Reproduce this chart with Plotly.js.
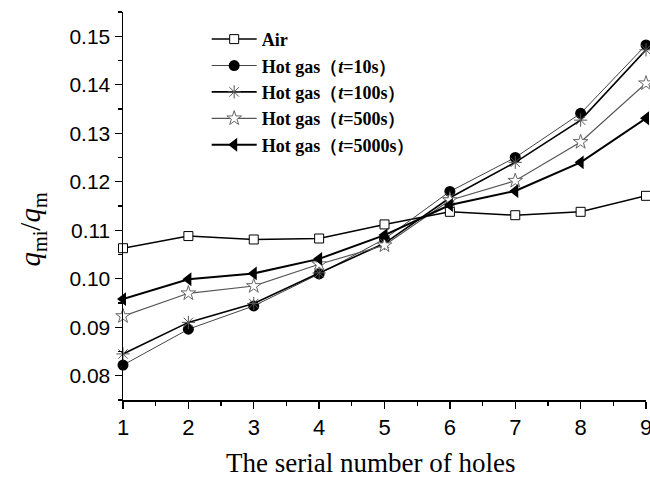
<!DOCTYPE html>
<html>
<head>
<meta charset="utf-8">
<script src="https://cdn.plot.ly/plotly-3.0.1.min.js"></script>
<style>
  html, body { margin: 0; padding: 0; background: #fff; }
  #chart { width: 650px; height: 478px; }
</style>
</head>
<body>
<div id="chart"></div>
<script>
// Hole index along the manifold
const holes = [1, 2, 3, 4, 5, 6, 7, 8, 9];

// Flow distribution ratio q_mi / q_m for each hole
const air     = [0.1063, 0.1088, 0.1081, 0.1083, 0.1112, 0.1138, 0.1131, 0.1138, 0.1171];
const gas10   = [0.0822, 0.0896, 0.0944, 0.1010, 0.1082, 0.1180, 0.1250, 0.1341, 0.1482];
const gas100  = [0.0845, 0.0910, 0.0949, 0.1012, 0.1073, 0.1167, 0.1240, 0.1327, 0.1472];
const gas500  = [0.0923, 0.0970, 0.0985, 0.1030, 0.1069, 0.1162, 0.1202, 0.1282, 0.1403];
const gas5000 = [0.0958, 0.0999, 0.1011, 0.1041, 0.1090, 0.1152, 0.1181, 0.1240, 0.1331];

const seriesNames = [
  'Air',
  'Hot gas（<i>t</i>=10s）',
  'Hot gas（<i>t</i>=100s）',
  'Hot gas（<i>t</i>=500s）',
  'Hot gas（<i>t</i>=5000s）'
];

const serif = 'Liberation Serif, Times New Roman, serif';
const sans = 'Liberation Sans, Arial, sans-serif';

function series(y, name, line, marker) {
  return {
    x: holes, y: y, name: name,
    type: 'scatter', mode: 'lines+markers',
    line: line, marker: marker, cliponaxis: false
  };
}

const traces = [
  series(air, seriesNames[0],
    { color: '#000', width: 1.5 },
    { symbol: 'square', size: 9, color: '#fff', line: { color: '#000', width: 1 } }),
  series(gas10, seriesNames[1],
    { color: '#444', width: 1 },
    { symbol: 'circle', size: 11, color: '#000', line: { color: '#000', width: 0 } }),
  series(gas100, seriesNames[2],
    { color: '#000', width: 1.6 },
    { symbol: 'asterisk-open', size: 11, color: '#555', line: { color: '#555', width: 1 } }),
  series(gas500, seriesNames[3],
    { color: '#555', width: 1.2 },
    { symbol: 'star', size: 11, color: '#fff', line: { color: '#666', width: 1 } }),
  series(gas5000, seriesNames[4],
    { color: '#000', width: 2 },
    { symbol: 'triangle-left', size: 12, color: '#000', line: { color: '#000', width: 0 } })
];

const layout = {
  width: 650, height: 478,
  margin: { l: 123.3, r: 4, t: 11.7, b: 78 },
  paper_bgcolor: '#fff', plot_bgcolor: '#fff',
  showlegend: true,
  legend: {
    x: 0.16, y: 0.977, xanchor: 'left', yanchor: 'top',
    bgcolor: 'rgba(0,0,0,0)', borderwidth: 0,
    itemwidth: 45,
    font: { family: serif, size: 18, color: '#000', weight: 'bold' }
  },
  xaxis: {
    range: [1, 9], dtick: 1, tick0: 1,
    showgrid: false, zeroline: false,
    showline: true, linecolor: '#000', linewidth: 1.5,
    ticks: 'outside', ticklen: 7, tickwidth: 1.3, tickcolor: '#000',
    minor: { dtick: 0.5, ticks: 'outside', ticklen: 4, tickwidth: 1.3, tickcolor: '#000' },
    tickfont: { family: sans, size: 22, color: '#000' },
    ticklabeloverflow: 'allow'
  },
  yaxis: {
    range: [0.075, 0.155], dtick: 0.01, tick0: 0.08, tickformat: '.2f',
    showgrid: false, zeroline: false,
    showline: true, linecolor: '#000', linewidth: 1.5,
    ticks: 'outside', ticklen: 7, tickwidth: 1.3, tickcolor: '#000',
    minor: { dtick: 0.005, ticks: 'outside', ticklen: 4, tickwidth: 1.3, tickcolor: '#000' },
    tickfont: { family: sans, size: 21, color: '#000' }
  },
  annotations: [
    {
      text: 'The serial number of holes',
      xref: 'paper', yref: 'paper', x: 0.474, y: -0.162,
      xanchor: 'center', yanchor: 'middle', showarrow: false,
      font: { family: serif, size: 27, color: '#000' }
    },
    {
      text: '<i>q</i><sub>mi</sub>/<i>q</i><sub>m</sub>',
      xref: 'paper', yref: 'paper', x: -0.173, y: 0.438,
      xanchor: 'center', yanchor: 'middle', textangle: -90, showarrow: false,
      font: { family: serif, size: 29, color: '#000' }
    }
  ]
};

Plotly.newPlot('chart', traces, layout, { displayModeBar: false, staticPlot: true });
</script>
</body>
</html>
